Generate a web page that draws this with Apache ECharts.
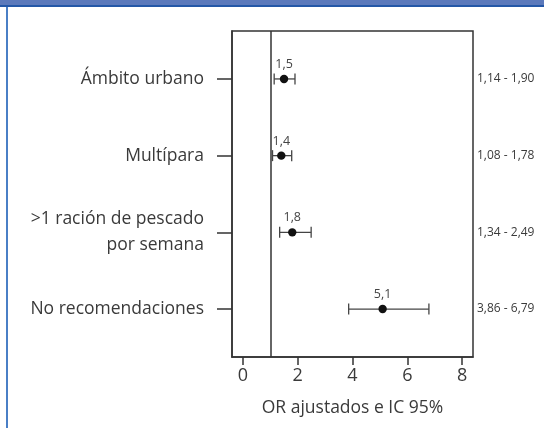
<!DOCTYPE html>
<html>
<head>
<meta charset="utf-8">
<script src="https://cdn.jsdelivr.net/npm/echarts@6/dist/echarts.min.js"></script>
<style>
  html, body { margin: 0; padding: 0; background: #fff; }
  #chart { width: 544px; height: 428px; }
</style>
</head>
<body>
<div id="chart"></div>
<script>
// datos del forest plot
const factores = ['Ámbito urbano', 'Multípara', '>1 ración de pescado\npor semana', 'No recomendaciones']
const orValores = [1.5, 1.4, 1.8, 5.1]
const icInferior = [1.14, 1.08, 1.34, 3.86]
const icSuperior = [1.90, 1.78, 2.49, 6.79]
const xTicks = [0, 2, 4, 6, 8]
const lineaRef = 1

const fmt = v => String(v).replace('.', ',')
const fmt2 = v => v.toFixed(2).replace('.', ',')

const filas = factores.map((f, i) => [i + 1, orValores[i], icInferior[i], icSuperior[i]])

const fuente = '"Open Sans", Lato, sans-serif'
const gris = '#3a3a3a'

const option = {
  animation: false,
  graphic: [
    { type: 'rect', shape: { x: 0, y: 0, width: 544, height: 6 }, style: { fill: '#5b79bb' } },
    { type: 'rect', shape: { x: 0, y: 5, width: 544, height: 2 }, style: { fill: '#2457a7' } },
    { type: 'rect', shape: { x: 6, y: 7, width: 2, height: 421 }, style: { fill: '#4a7fc6' } }
  ],
  grid: {
    left: 232, right: 71, top: 31, bottom: 71,
    show: true, borderColor: '#333', borderWidth: 1.5, backgroundColor: 'transparent'
  },
  xAxis: {
    type: 'value', min: -0.4, max: 8.4,
    name: 'OR ajustados e IC 95%', nameLocation: 'middle', nameGap: 42,
    nameTextStyle: { fontFamily: fuente, fontSize: 17.5, color: gris },
    axisLine: { show: true, onZero: false, lineStyle: { color: '#333', width: 1.5 } },
    axisTick: { show: true, customValues: xTicks, length: 8, lineStyle: { color: '#333', width: 1.5 } },
    axisLabel: { customValues: xTicks, margin: 10, fontFamily: fuente, fontSize: 18, color: gris },
    splitLine: { show: false }
  },
  yAxis: [
    {
      type: 'value', min: 0.375, max: 4.625, inverse: true,
      axisLine: { show: true, onZero: false, lineStyle: { color: '#333', width: 1.5 } },
      axisTick: { show: true, customValues: [1, 2, 3, 4], length: 15, lineStyle: { color: '#333', width: 1.5 } },
      axisLabel: {
        customValues: [1, 2, 3, 4], margin: 28, align: 'right', lineHeight: 26,
        fontFamily: fuente, fontSize: 17.5, color: gris,
        formatter: v => factores[Math.round(v) - 1]
      },
      splitLine: { show: false }
    },
    {
      type: 'value', min: 0.375, max: 4.625, inverse: true, position: 'right',
      axisLine: { show: false, onZero: false },
      axisTick: { show: false },
      axisLabel: {
        customValues: [1, 2, 3, 4], margin: 4,
        fontFamily: fuente, fontSize: 12, color: gris,
        formatter: v => fmt2(icInferior[Math.round(v) - 1]) + ' - ' + fmt2(icSuperior[Math.round(v) - 1])
      },
      splitLine: { show: false }
    }
  ],
  series: [
    {
      type: 'custom',
      data: filas,
      encode: { x: [1, 2, 3], y: 0 },
      renderItem: (params, api) => {
        const y = api.value(0)
        const c = api.coord([api.value(1), y])
        const lo = api.coord([api.value(2), y])
        const hi = api.coord([api.value(3), y])
        const lineStyle = { stroke: '#444', lineWidth: 1.3 }
        return {
          type: 'group',
          children: [
            { type: 'line', shape: { x1: lo[0], y1: c[1], x2: hi[0], y2: c[1] }, style: lineStyle },
            { type: 'line', shape: { x1: lo[0], y1: c[1] - 5.5, x2: lo[0], y2: c[1] + 5.5 }, style: lineStyle },
            { type: 'line', shape: { x1: hi[0], y1: c[1] - 5.5, x2: hi[0], y2: c[1] + 5.5 }, style: lineStyle },
            { type: 'circle', shape: { cx: c[0], cy: c[1], r: 4.2 }, style: { fill: '#111' } },
            {
              type: 'text', x: c[0], y: c[1] - 8,
              style: {
                text: fmt(api.value(1)), align: 'center', verticalAlign: 'bottom',
                font: '12.5px ' + fuente, fill: '#444'
              }
            }
          ]
        }
      },
      markLine: {
        silent: true, symbol: 'none', label: { show: false },
        lineStyle: { color: '#333', width: 1.5, type: 'solid' },
        data: [{ xAxis: lineaRef }]
      }
    }
  ]
}

const myChart = echarts.init(document.getElementById('chart'))
myChart.setOption(option)
</script>
</body>
</html>
